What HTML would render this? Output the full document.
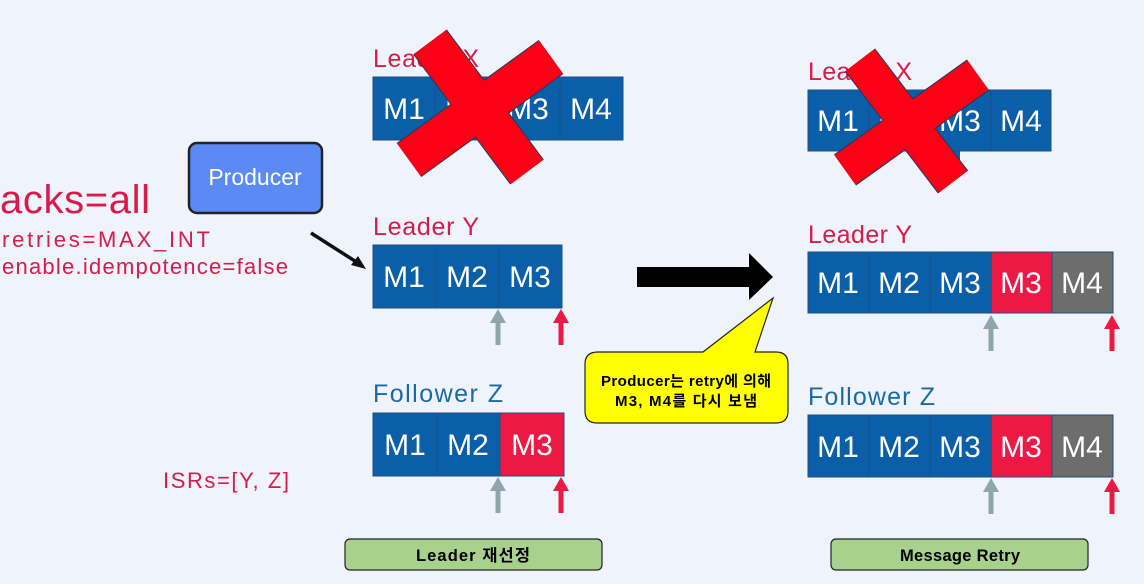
<!DOCTYPE html>
<html><head><meta charset="utf-8"><style>
html,body{margin:0;padding:0;background:#eef3fc;}
svg{display:block;}
</style></head><body>
<svg width="1144" height="584" viewBox="0 0 1144 584" xmlns="http://www.w3.org/2000/svg" font-family="Liberation Sans, DejaVu Sans, sans-serif">
<rect width="1144" height="584" fill="#eef3fc"/>
<defs>
<g id="ua"><rect x="-2.5" y="12" width="5" height="24"/><polygon points="-8,14 0,0 8,14"/></g>
</defs>
<!-- left text -->
<text x="0" y="213" font-size="40" fill="#d81b48" textLength="150">acks=all</text>
<text x="2" y="247" font-size="22" fill="#d81b48" textLength="208">retries=MAX_INT</text>
<text x="2" y="274" font-size="22" fill="#d81b48" textLength="286">enable.idempotence=false</text>
<text x="163" y="488" font-size="22" fill="#d81b48" textLength="126">ISRs=[Y, Z]</text>
<!-- producer -->
<rect x="189" y="143" width="133" height="70" rx="8" fill="#5b8af5" stroke="#222" stroke-width="2.5"/>
<text x="255" y="185" font-size="23" fill="#fff" text-anchor="middle">Producer</text>
<line x1="311" y1="233" x2="358" y2="263" stroke="#111" stroke-width="3.5"/>
<polygon points="366,269 351,265 358,256" fill="#111"/>

<!-- Left Leader X -->
<text x="373" y="67" font-size="25" fill="#d81b48" textLength="106">Leader X</text>
<rect x="497" y="140" width="30" height="12" fill="#0a5fa8"/>
<g fill="#0a5fa8" stroke="#1d4f80" stroke-width="1">
<rect x="373" y="77" width="62" height="63"/><rect x="435" y="77" width="62" height="63"/><rect x="497" y="77" width="63" height="63"/><rect x="560" y="77" width="63" height="63"/>
</g>
<g font-size="30" fill="#fff" text-anchor="middle">
<text x="404" y="119">M1</text><text x="466" y="119">M2</text><text x="528" y="119">M3</text><text x="591" y="119">M4</text>
</g>
<line x1="430" y1="42" x2="527" y2="172" stroke="#1d3a5a" stroke-width="42"/>
<line x1="409" y1="160" x2="551" y2="57" stroke="#1d3a5a" stroke-width="42"/>
<line x1="430" y1="42" x2="527" y2="172" stroke="#fe0015" stroke-width="40"/>
<line x1="409" y1="160" x2="551" y2="57" stroke="#fe0015" stroke-width="40"/>

<!-- Left Leader Y -->
<text x="373" y="235" font-size="25" fill="#d81b48" textLength="106">Leader Y</text>
<g fill="#0a5fa8" stroke="#1d4f80" stroke-width="1">
<rect x="373" y="245" width="63" height="63"/><rect x="436" y="245" width="63" height="63"/><rect x="499" y="245" width="63" height="63"/>
</g>
<g font-size="30" fill="#fff" text-anchor="middle">
<text x="404" y="287">M1</text><text x="467" y="287">M2</text><text x="530" y="287">M3</text>
</g>
<use href="#ua" x="498" y="309" fill="#8ea5ab"/>
<use href="#ua" x="561" y="309" fill="#ee1845"/>

<!-- Left Follower Z -->
<text x="373" y="402" font-size="25" fill="#1b6aa8" textLength="130">Follower Z</text>
<g stroke="#1d4f80" stroke-width="1">
<rect x="373" y="413" width="64" height="63" fill="#0a5fa8"/><rect x="437" y="413" width="63" height="63" fill="#0a5fa8"/><rect x="500" y="413" width="64" height="63" fill="#ee1845"/>
</g>
<g font-size="30" fill="#fff" text-anchor="middle">
<text x="405" y="455">M1</text><text x="468" y="455">M2</text><text x="532" y="455">M3</text>
</g>
<use href="#ua" x="498" y="477" fill="#8ea5ab"/>
<use href="#ua" x="561" y="477" fill="#ee1845"/>

<!-- big arrow -->
<polygon points="637,267 749,267 749,253 773,277 749,300 749,287 637,287" fill="#000"/>
<!-- callout -->
<path d="M598,352 L703,352 L773,298 L755,352 L776,352 Q788,352 788,364 L788,411 Q788,423 776,423 L597,423 Q585,423 585,411 L585,364 Q585,352 598,352 Z" fill="#ffff00" stroke="#222" stroke-width="1.2"/>
<text x="686" y="386" font-size="15" font-weight="bold" fill="#000" text-anchor="middle" font-family="Liberation Sans, Noto Sans CJK KR, sans-serif" textLength="170">Producer는 retry에 의해</text>
<text x="686" y="406" font-size="15" font-weight="bold" fill="#000" text-anchor="middle" font-family="Liberation Sans, Noto Sans CJK KR, sans-serif" textLength="142">M3, M4를 다시 보냄</text>

<!-- Right Leader X -->
<text x="808" y="80" font-size="25" fill="#d81b48" textLength="104">Leader X</text>
<rect x="930" y="150" width="30" height="12" fill="#0a5fa8"/>
<g fill="#0a5fa8" stroke="#1d4f80" stroke-width="1">
<rect x="808" y="90" width="61" height="61"/><rect x="869" y="90" width="61" height="61"/><rect x="930" y="90" width="61" height="61"/><rect x="991" y="90" width="60" height="61"/>
</g>
<g font-size="30" fill="#fff" text-anchor="middle">
<text x="838" y="131">M1</text><text x="899" y="131">M2</text><text x="960" y="131">M3</text><text x="1021" y="131">M4</text>
</g>
<line x1="860" y1="60" x2="953" y2="182" stroke="#1d3a5a" stroke-width="38"/>
<line x1="845" y1="170" x2="978" y2="75" stroke="#1d3a5a" stroke-width="38"/>
<line x1="860" y1="60" x2="953" y2="182" stroke="#fe0015" stroke-width="36"/>
<line x1="845" y1="170" x2="978" y2="75" stroke="#fe0015" stroke-width="36"/>

<!-- Right Leader Y -->
<text x="808" y="243" font-size="25" fill="#d81b48" textLength="104">Leader Y</text>
<g stroke="#1d4f80" stroke-width="1">
<rect x="808" y="252" width="61" height="61" fill="#0a5fa8"/><rect x="869" y="252" width="61" height="61" fill="#0a5fa8"/><rect x="930" y="252" width="61" height="61" fill="#0a5fa8"/><rect x="991" y="252" width="61" height="61" fill="#ee1845"/><rect x="1052" y="252" width="61" height="61" fill="#6d6d6d"/>
</g>
<g font-size="30" fill="#fff" text-anchor="middle">
<text x="838" y="293">M1</text><text x="899" y="293">M2</text><text x="960" y="293">M3</text><text x="1021" y="293">M3</text><text x="1082" y="293">M4</text>
</g>
<use href="#ua" x="991" y="315" fill="#8ea5ab"/>
<use href="#ua" x="1112" y="315" fill="#ee1845"/>

<!-- Right Follower Z -->
<text x="808" y="405" font-size="25" fill="#1b6aa8" textLength="127">Follower Z</text>
<g stroke="#1d4f80" stroke-width="1">
<rect x="808" y="415" width="61" height="62" fill="#0a5fa8"/><rect x="869" y="415" width="61" height="62" fill="#0a5fa8"/><rect x="930" y="415" width="61" height="62" fill="#0a5fa8"/><rect x="991" y="415" width="61" height="62" fill="#ee1845"/><rect x="1052" y="415" width="61" height="62" fill="#6d6d6d"/>
</g>
<g font-size="30" fill="#fff" text-anchor="middle">
<text x="838" y="457">M1</text><text x="899" y="457">M2</text><text x="960" y="457">M3</text><text x="1021" y="457">M3</text><text x="1082" y="457">M4</text>
</g>
<use href="#ua" x="991" y="478" fill="#8ea5ab"/>
<use href="#ua" x="1112" y="478" fill="#ee1845"/>

<!-- labels -->
<rect x="345" y="539" width="257" height="31" rx="5" fill="#a9d18e" stroke="#222" stroke-width="1.2"/>
<text x="473" y="561" font-size="16.5" font-weight="bold" text-anchor="middle" font-family="Liberation Sans, Noto Sans CJK KR, sans-serif" textLength="114">Leader 재선정</text>
<rect x="831" y="539" width="257" height="31" rx="5" fill="#a9d18e" stroke="#222" stroke-width="1.2"/>
<text x="960" y="561" font-size="16.5" font-weight="bold" text-anchor="middle" textLength="120">Message Retry</text>
</svg>
</body></html>
